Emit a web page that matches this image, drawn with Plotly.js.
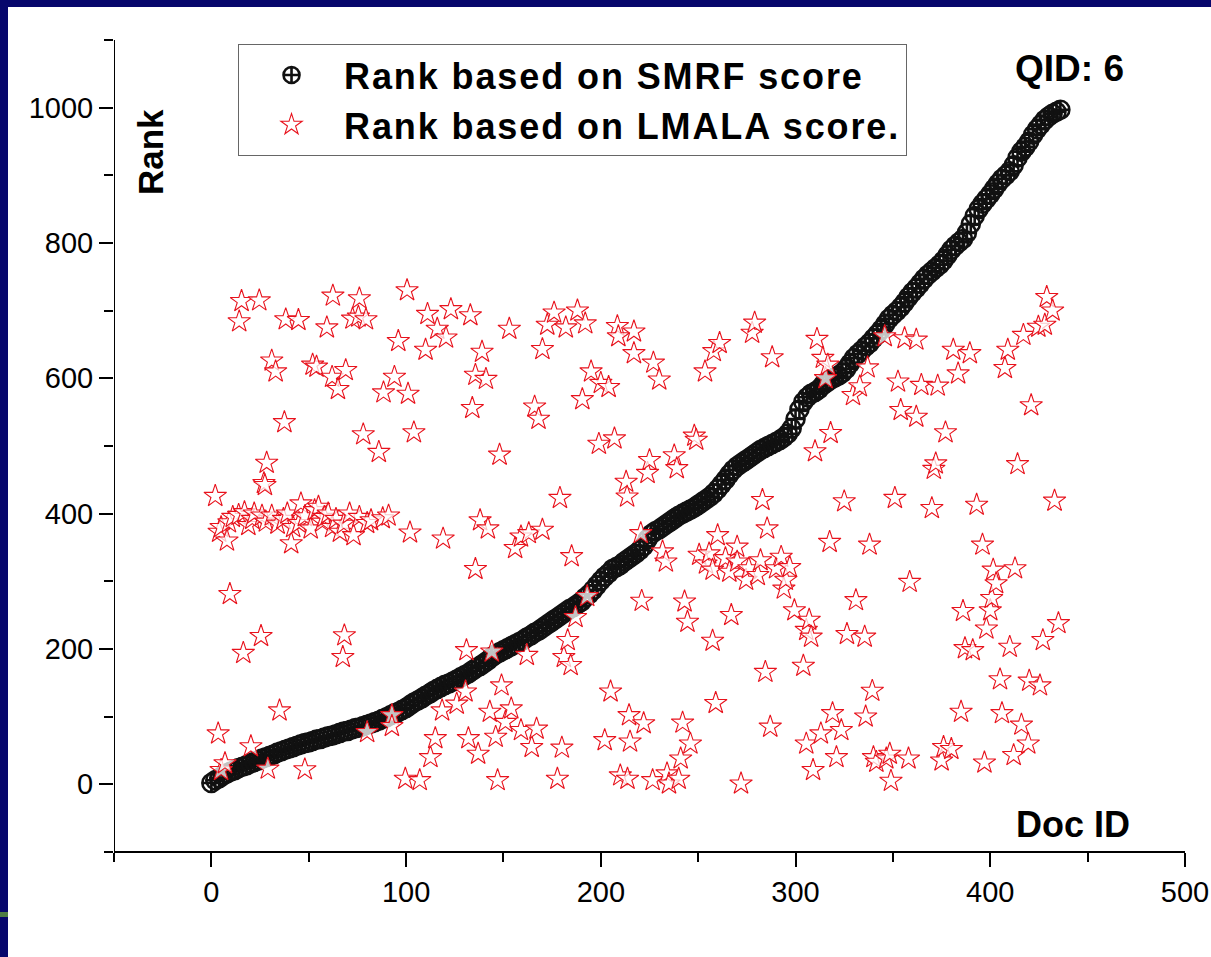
<!DOCTYPE html>
<html>
<head>
<meta charset="utf-8">
<script src="https://cdn.plot.ly/plotly-3.0.1.min.js"></script>
<style>
  html, body { margin: 0; padding: 0; }
  body { width: 1211px; height: 957px; background: #07076c; position: relative; overflow: hidden; }
  #chart { position: absolute; left: 8px; top: 7px; width: 1203px; height: 950px; background: #fff; }
  #green { position: absolute; left: 0; top: 912px; width: 8px; height: 5px; background: #4f7d45; }
</style>
</head>
<body>
<div id="chart"></div>
<div id="green"></div>
<script>
// ---- Data ----
// SMRF rank curve: doc IDs and ranks
const smrfDoc = [0,2,4,6,8,10,12,14,16,18,20,22,24,26,28,30,32,34,36,38,40,42,44,46,48,50,52,54,56,58,60,62,64,66,68,70,72,74,76,78,80,82,84,86,88,90,92,94,96,98,100,102,104,106,108,110,112,114,116,118,120,122,124,126,128,130,132,134,136,138,140,142,144,146,148,150,152,154,156,158,160,162,164,166,168,170,172,174,176,178,180,182,184,186,188,190,192,194,196,198,200,202,204,206,208,210,212,214,216,218,220,222,224,226,228,230,232,234,236,238,240,242,244,246,248,250,252,254,256,258,260,262,264,266,268,270,272,274,276,278,280,282,284,286,288,290,292,294,296,298,300,302,304,306,308,310,312,314,316,318,320,322,324,326,328,330,332,334,336,338,340,342,344,346,348,350,352,354,356,358,360,362,364,366,368,370,372,374,376,378,380,382,384,386,388,390,392,394,396,398,400,402,404,406,408,410,412,414,416,418,420,422,424,426,428,430,432,434,436];
const smrfRank = [2,6,9,13,16,19,21,24,26,28,31,33,35,38,40,42,44,47,49,51,53,55,57,59,61,62,64,66,67,69,71,72,74,76,78,79,81,83,84,86,88,90,92,94,97,99,102,105,107,110,113,117,121,124,127,131,134,138,141,144,147,149,152,155,158,161,164,168,172,175,179,183,188,192,195,198,201,204,207,210,213,217,220,224,227,231,235,239,243,247,251,255,259,262,266,270,276,281,287,294,301,307,312,318,321,324,329,333,337,341,346,352,362,370,374,377,381,385,389,393,397,400,403,406,409,413,417,421,425,430,436,443,450,458,465,470,474,478,482,486,490,494,497,500,503,506,509,513,518,526,540,554,565,572,577,580,584,590,594,598,601,604,608,614,622,630,636,641,647,652,659,665,672,680,688,694,699,705,712,720,727,733,740,747,753,758,763,768,774,782,790,796,801,806,815,828,840,850,858,865,872,880,888,895,900,906,915,926,935,942,950,960,968,975,982,987,991,994,997];

// LMALA rank points: doc IDs and ranks
const lmalaDoc = [2,4,5,8,9,11,14,17,19,21,22,26,28,31,34,37,39,41,42,45,46,48,51,53,55,57,58,60,62,64,66,68,71,73,76,80,82,88,91,102,
  3.5,5,7,9.5,14.3,15.5,16.4,20.3,24.6,25.5,27,27.5,28.4,29,31,33,35,37.5,38.2,44.7,48,
  52,54,59.3,62,62.4,65,67.5,68.3,69,72.5,75.5,76,78,79.4,80,86,88.4,92.7,92.7,94,96,99.6,
  100.5,101,104,107,110,111,112.5,115,116,118.5,119,120.5,123,126,130.5,131,132,133,134,135.6,135.6,137,138,139,141,142,143,144,146,147,148,149,151,153,154,
  156,159,159,162,163,164.5,166,167,168,170,170,172.5,176,177.7,179,180,181,182,183,184.5,185,187,188,190.5,192,193,195,199,200,
  202,204,205,207,208.5,209,210,213,213.5,213.7,214.5,215,217,217,220.5,221,222,224,225,226.6,227,230,231.7,233.4,234,235,237.7,239,240,241,242,243,244.5,246,248,249,
  250.5,253.5,254,255.6,257.4,257.4,258,259,260,261,264,266,267,270,270,272,274.6,276,277.7,279,280.6,282,283,284.5,285.4,287,288,290,292.6,294,295,297,299.4,
  304,305.5,305.5,307,308,309,310,311,313,314,315.4,316.6,317.5,318,319,321,323.5,325,326.4,329.5,331,333,335.5,336,337,338,339.4,340,341.5,345.8,346.6,348.4,349,
  351,352.6,354,356,358,358.6,362,362,364.6,370,371,372,373,375,376,377,380,381,383.5,385,386,387,389.5,391,393,396,397,398,
  400,400.7,401.5,403,405,406,407.5,409,410,412,412.7,414,416,417,419.5,420,421,424.7,425.5,427,428,429,432,433,435];
const lmalaRank = [426,373,380,360,387,395,398,402,383,392,400,397,388,397,385,392,400,356,380,386,415,396,378,405,410,388,395,400,380,392,373,385,400,368,395,386,390,393,397,372,
  75,21,31,281,684,714,194,56,715,219,445,442,475,23,626,610,109,535,687,686,22,
  620,617,675,602,722,584,188,220,612,688,691,718,517,687,77,491,579,102,86,602,655,8,
  730,577,520,6,642,695,40,68,673,109,363,660,702,119,137,198,68,693,556,605,318,45,390,639,599,378,107,196,70,6,487,146,92,673,112,
  349,80,366,191,371,55,558,82,540,643,376,679,697,8,423,54,188,675,213,176,337,247,700,569,681,278,610,503,593,
  65,587,137,511,677,662,13,447,425,8,102,63,669,637,371,271,90,460,479,6,623,598,344,329,16,1,486,467,8,38,91,270,240,60,515,509,
  339,610,326,341,317,212,640,120,368,652,334,314,250,351,329,1,302,319,667,682,309,331,420,166,378,85,631,319,336,289,302,321,257,
  175,60,228,243,218,21,492,658,75,630,600,620,358,519,105,40,80,418,222,575,272,588,218,100,616,354,138,40,33,662,38,45,5,
  423,595,553,659,38,299,657,543,590,408,466,474,589,35,55,520,52,642,607,107,256,201,637,198,413,354,32,230,
  257,275,317,297,155,105,615,642,203,43,319,473,88,664,60,153,560,676,146,213,679,720,700,419,238];

// Axis tick values and labels
const xTickVals = [0, 100, 200, 300, 400, 500];
const yTickVals = [0, 200, 400, 600, 800, 1000];
const seriesNames = ['Rank based on SMRF score', 'Rank based on LMALA score.'];

const FONT = 'Liberation Sans, Arial, Helvetica, sans-serif';
const wide = s => '<span style="letter-spacing:1.9px"><b>' + s + '</b></span>';

const traces = [
  {
    x: smrfDoc, y: smrfRank, type: 'scatter', mode: 'markers',
    name: wide(seriesNames[0]),
    marker: { symbol: 'circle-cross-open', size: 18, color: '#111', line: { color: '#111', width: 2.6 } }
  },
  {
    x: lmalaDoc, y: lmalaRank, type: 'scatter', mode: 'markers',
    name: wide(seriesNames[1]),
    marker: { symbol: 'star', size: 17, color: 'rgba(255,255,255,0.75)', line: { color: '#e8121c', width: 1.1 } }
  }
];

const axisCommon = {
  showline: false,
  ticks: 'outside', ticklen: 14, tickwidth: 2, tickcolor: '#000',
  showgrid: false, zeroline: false, mirror: false,
  tickfont: { family: FONT, size: 29, color: '#000' }
};

const layout = {
  width: 1203, height: 950,
  margin: { l: 106, r: 26, t: 33, b: 105 },
  paper_bgcolor: '#fff', plot_bgcolor: '#fff',
  showlegend: true,
  xaxis: Object.assign({}, axisCommon, {
    range: [-50, 500], tickmode: 'array', tickvals: xTickVals,
    minor: { dtick: 50, tick0: 0, ticks: 'outside', ticklen: 9, tickwidth: 2, tickcolor: '#000' }
  }),
  yaxis: Object.assign({}, axisCommon, {
    range: [-100, 1100], tickmode: 'array', tickvals: yTickVals,
    minor: { dtick: 100, tick0: 0, ticks: 'outside', ticklen: 9, tickwidth: 2, tickcolor: '#000' }
  }),
  shapes: [
    { type: 'line', xref: 'x', yref: 'paper', x0: -50, x1: -50, y0: 0, y1: 1, line: { color: '#000', width: 2 } },
    { type: 'line', xref: 'x', yref: 'paper', x0: -50, x1: 500, y0: 0, y1: 0, line: { color: '#000', width: 2 } }
  ],
  legend: {
    x: 0.1158, y: 0.995, xanchor: 'left', yanchor: 'top',
    bgcolor: '#fff', bordercolor: '#666', borderwidth: 1,
    font: { family: FONT, size: 36, color: '#000' },
    indentation: 0, itemwidth: 95
  },
  annotations: [
    { text: '<b>Rank</b>', xref: 'paper', yref: 'paper', x: 0.0336, y: 0.862, showarrow: false,
      xanchor: 'center', yanchor: 'middle',
      textangle: -90, font: { family: FONT, size: 35, color: '#000' } },
    { text: '<b>QID: 6</b>', xref: 'paper', yref: 'paper', x: 0.8926, y: 0.9655, showarrow: false,
      xanchor: 'center', yanchor: 'middle',
      font: { family: FONT, size: 37, color: '#000' } },
    { text: '<b>Doc ID</b>', xref: 'paper', yref: 'paper', x: 0.8954, y: 0.0333, showarrow: false,
      xanchor: 'center', yanchor: 'middle',
      font: { family: FONT, size: 36, color: '#000' } }
  ]
};

Plotly.newPlot('chart', traces, layout, { displayModeBar: false, staticPlot: true });
</script>
</body>
</html>
